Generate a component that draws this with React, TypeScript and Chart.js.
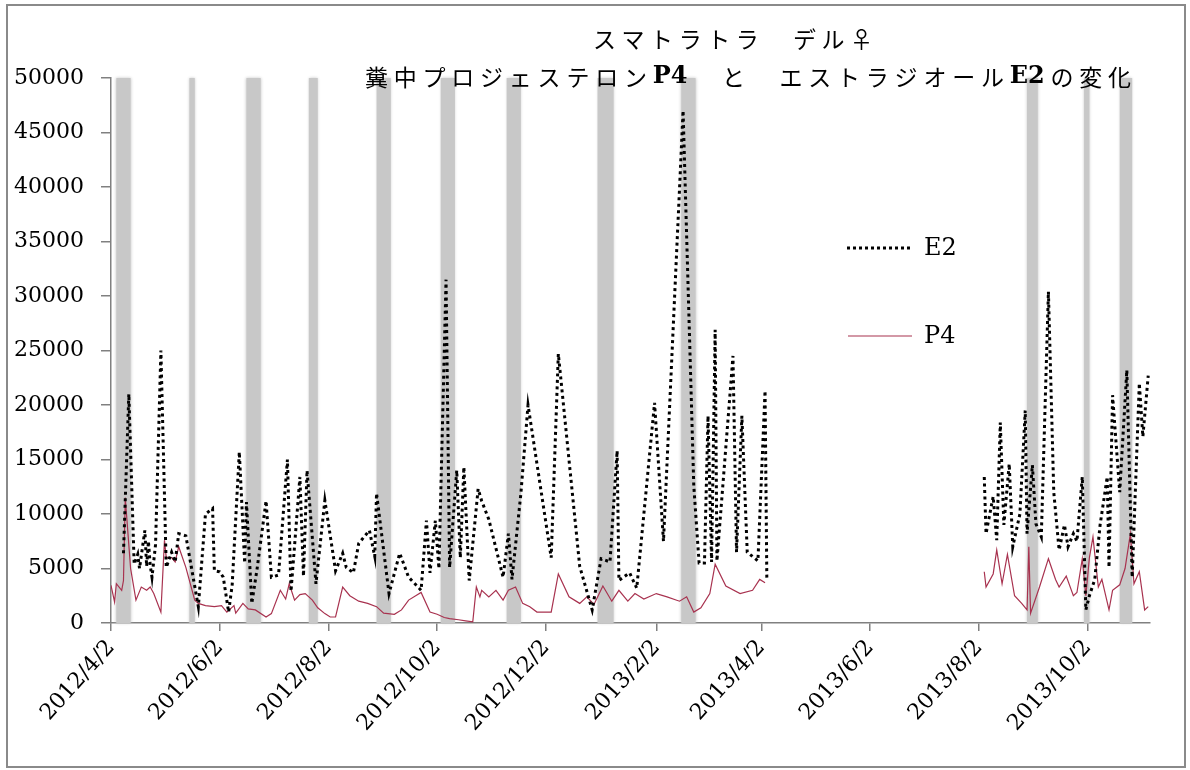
import React, { useEffect, useRef } from 'react';
import { Chart, registerables } from 'chart.js';

Chart.register(...registerables);

// ---- data (x = days since 2012/4/2) ----
const tickDays = [0, 61, 122, 183, 244, 306, 365, 426, 487, 548];
const tickLabels = ['2012/4/2', '2012/6/2', '2012/8/2', '2012/10/2', '2012/12/2', '2013/2/2', '2013/4/2', '2013/6/2', '2013/8/2', '2013/10/2'];

const bandStartDays = [3, 44, 76, 111, 149, 185, 222, 273, 320, 514, 546, 566];
const bandEndDays = [11, 47, 84, 116, 157, 193, 230, 282, 328, 520, 549, 573];
const bandValue = 50000;

const e2Days = [7, 10, 13, 15, 16, 19, 20, 21, 22, 23, 25, 28, 31, 34, 36, 38, 42, 49, 53, 57, 58, 61, 63, 66, 68, 72, 75, 76, 79, 82, 87, 90, 94, 99, 101, 106, 108, 110, 115, 120, 126, 130, 132, 136, 139, 145, 148, 149, 156, 162, 167, 174, 177, 179, 182, 184, 188, 190, 194, 196, 198, 201, 206, 208, 212, 220, 223, 225, 230, 234, 247, 251, 263, 270, 275, 280, 284, 285, 291, 295, 305, 310, 321, 327, 330, 333, 335, 337, 339, 340, 349, 351, 354, 357, 363, 367, 368, 430, 490, 491, 495, 497, 499, 501, 504, 506, 510, 513, 514, 517, 519, 522, 526, 529, 532, 535, 537, 540, 542, 545, 547, 549, 552, 555, 559, 560, 562, 566, 570, 573, 577, 579, 582];
const e2Values = [6400, 21000, 5400, 6300, 5000, 8500, 5200, 7500, 5300, 4200, 7200, 25000, 5100, 6500, 5600, 8200, 8000, 1500, 10000, 10500, 4800, 4700, 4200, 1000, 3500, 15700, 5500, 11100, 1800, 5000, 11200, 4200, 4400, 15000, 2900, 13400, 4300, 14000, 3600, 11250, 4800, 6400, 5100, 4600, 7300, 8500, 6100, 11900, 2700, 6400, 4200, 3000, 9400, 4600, 9400, 5000, 31500, 5100, 14000, 6000, 14300, 3900, 12300, 11200, 9500, 4200, 8200, 4000, 11900, 20000, 6000, 24700, 5200, 1200, 5900, 5600, 15800, 3900, 4600, 3200, 20200, 7500, 47000, 12600, 5500, 5500, 19000, 5600, 26900, 5700, 24500, 6500, 19000, 6500, 5700, 21300, 4000, null, 13400, 8200, 11600, 7600, 18400, 9000, 14600, 7000, 10000, 19500, 8200, 14500, 9100, 7900, 30400, 12000, 6700, 9000, 7000, 8200, 7500, 13400, 1200, 2500, 4000, 9000, 13400, 5100, 20900, 12000, 23200, 4200, 22000, 17100, 22700];

const p4Days = [0, 2, 3, 6, 7, 8, 11, 14, 17, 20, 22, 24, 28, 30, 31, 34, 36, 38, 42, 47, 49, 53, 58, 62, 65, 69, 70, 74, 77, 81, 87, 90, 95, 98, 100, 103, 106, 109, 113, 116, 120, 123, 126, 130, 134, 139, 144, 149, 153, 159, 163, 167, 174, 179, 183, 187, 190, 195, 199, 203, 205, 207, 208, 212, 216, 220, 223, 227, 231, 235, 239, 247, 251, 257, 263, 267, 271, 276, 281, 285, 290, 294, 299, 306, 312, 319, 323, 327, 331, 336, 339, 345, 353, 360, 364, 367, 430, 490, 491, 495, 497, 500, 503, 507, 511, 514, 515, 516, 521, 526, 530, 532, 536, 540, 542, 545, 547, 549, 551, 554, 556, 560, 562, 566, 569, 572, 574, 577, 580, 582];
const p4Values = [3460, 1930, 3610, 3000, 3900, 11500, 5000, 2100, 3300, 3000, 3300, 2700, 1000, 7600, 6000, 6000, 5600, 7000, 5100, 2100, 1800, 1600, 1500, 1600, 1000, 1600, 900, 1800, 1300, 1200, 550, 860, 3000, 2200, 3600, 2100, 2600, 2700, 2100, 1400, 860, 550, 550, 3300, 2500, 2000, 1800, 1500, 900, 800, 1200, 2100, 2800, 1000, 800, 500, 400, 300, 200, 100, 3300, 2400, 3000, 2400, 3000, 2100, 3000, 3300, 1800, 1500, 1000, 1000, 4500, 2400, 1800, 2400, 1700, 3400, 2000, 3000, 2000, 2700, 2200, 2700, 2400, 2000, 2400, 1000, 1400, 2700, 5400, 3400, 2700, 3000, 4000, 3700, null, 4700, 3300, 4500, 6700, 3600, 6300, 2500, 1800, 1200, 7000, 900, 3300, 5900, 4000, 3300, 4300, 2500, 2800, 5900, 2500, 6000, 7900, 3300, 4000, 1200, 3000, 3500, 5000, 8200, 3600, 4700, 1200, 1500];

const seriesNames = ['E2', 'P4'];
const titleLine1: [string, boolean][] = [['スマトラトラ　デル♀', false]];
const titleLine2: [string, boolean][] = [
  ['糞中プロジェステロン', false],
  ['P4', true],
  ['　と　', false],
  ['エストラジオール', false],
  ['E2', true],
  ['の変化', false],
];

const yMin = 0;
const yMax = 50000;
const yStep = 5000;
const xMinDay = 0;
const xMaxDay = 583;

const JP = '"Noto Sans CJK JP"';
const SERIF = '"DejaVu Serif"';
const E2_COLOR = '#000000';
const P4_COLOR = '#a8324f';
const AXIS_COLOR = '#808080';
const BAND_COLOR = '#c8c8c8';

function drawSpaced(ctx: CanvasRenderingContext2D, parts: [string, boolean][], cx: number, cy: number, width: number, size: number) {
  const chars: { ch: string; font: string; w: number; latin: boolean }[] = [];
  parts.forEach(([t, bold]) => {
    Array.from(t).forEach((ch) => {
      chars.push({ ch, font: bold ? `bold ${size + 1}px ${SERIF}` : `${size}px ${JP}`, w: 0, latin: bold });
    });
  });
  let total = 0;
  chars.forEach((c) => {
    ctx.font = c.font;
    c.w = ctx.measureText(c.ch).width;
    total += c.w;
  });
  let nGaps = 0;
  for (let i = 0; i < chars.length - 1; i++) {
    if (!(chars[i].latin && chars[i + 1].latin)) nGaps++;
  }
  const gap = nGaps > 0 ? (width - total) / nGaps : 0;
  let x = cx - width / 2;
  ctx.textBaseline = 'middle';
  ctx.textAlign = 'left';
  ctx.fillStyle = '#000';
  chars.forEach((c, i) => {
    ctx.font = c.font;
    ctx.fillText(c.ch, x, cy);
    const next = chars[i + 1];
    x += c.w + (next && c.latin && next.latin ? 0 : gap);
  });
}

const bandsPlugin = {
  id: 'bands',
  beforeDatasetsDraw(chart: any) {
    const { ctx, scales } = chart;
    const xs = scales.x;
    const ys = scales.y;
    ctx.save();
    ctx.fillStyle = BAND_COLOR;
    ctx.shadowColor = BAND_COLOR;
    ctx.shadowBlur = 3;
    bandStartDays.forEach((s, i) => {
      const x1 = xs.getPixelForValue(s);
      const x2 = xs.getPixelForValue(bandEndDays[i]);
      const y1 = ys.getPixelForValue(bandValue);
      const y2 = ys.getPixelForValue(0);
      ctx.fillRect(x1, y1, x2 - x1, y2 - y1);
    });
    ctx.restore();
  },
};

const textPlugin = {
  id: 'texts',
  afterDraw(chart: any) {
    const { ctx } = chart;
    ctx.save();
    drawSpaced(ctx, titleLine1, 733, 39, 280, 23);
    drawSpaced(ctx, titleLine2, 748, 77, 766, 23);

    // legend
    ctx.lineWidth = 3;
    ctx.strokeStyle = E2_COLOR;
    ctx.setLineDash([3, 3]);
    ctx.beginPath();
    ctx.moveTo(847, 248);
    ctx.lineTo(912, 248);
    ctx.stroke();
    ctx.setLineDash([]);
    ctx.lineWidth = 1.2;
    ctx.strokeStyle = P4_COLOR;
    ctx.beginPath();
    ctx.moveTo(848, 336);
    ctx.lineTo(912, 336);
    ctx.stroke();
    ctx.fillStyle = '#000';
    ctx.font = `24px ${SERIF}`;
    ctx.textAlign = 'left';
    ctx.textBaseline = 'middle';
    ctx.fillText(seriesNames[0], 924, 249);
    ctx.fillText(seriesNames[1], 924, 337);
    ctx.restore();
  },
};

export default function App() {
  const ref = useRef<HTMLCanvasElement>(null);
  useEffect(() => {
    const canvas = ref.current;
    if (!canvas) return;
    const e2Points = e2Days.map((d, i) => ({ x: d, y: e2Values[i] }));
    const p4Points = p4Days.map((d, i) => ({ x: d, y: p4Values[i] }));
    const chart = new Chart(canvas, {
      type: 'line',
      data: {
        datasets: [
          {
            label: seriesNames[0],
            data: e2Points as any,
            borderColor: E2_COLOR,
            borderWidth: 3,
            borderDash: [3, 3.5],
            borderCapStyle: 'butt',
            pointRadius: 0,
            tension: 0,
            spanGaps: false,
            order: 0,
          },
          {
            label: seriesNames[1],
            data: p4Points as any,
            borderColor: P4_COLOR,
            borderWidth: 1.2,
            pointRadius: 0,
            tension: 0,
            spanGaps: false,
            order: 1,
          },
        ],
      },
      options: {
        responsive: false,
        animation: false,
        layout: { padding: { top: 78, right: 40, left: 0, bottom: 0 } },
        plugins: {
          legend: { display: false },
          tooltip: { enabled: false },
          title: { display: false },
        },
        scales: {
          x: {
            type: 'linear',
            min: xMinDay,
            max: xMaxDay,
            afterBuildTicks: (scale: any) => {
              scale.ticks = tickDays.map((v) => ({ value: v }));
            },
            afterFit: (scale: any) => {
              scale.height = 147;
            },
            ticks: {
              autoSkip: false,
              minRotation: 48,
              maxRotation: 48,
              padding: 4,
              color: '#000',
              font: { family: SERIF, size: 22 },
              callback: (v: any) => {
                const i = tickDays.indexOf(Number(v));
                return i >= 0 ? tickLabels[i] : '';
              },
            },
            grid: { display: true, drawOnChartArea: false, drawTicks: true, tickLength: 8, color: AXIS_COLOR, lineWidth: 1.5 },
            border: { display: true, color: AXIS_COLOR, width: 1.5 },
          },
          y: {
            min: yMin,
            max: yMax,
            afterFit: (scale: any) => {
              scale.width = 111;
            },
            ticks: {
              stepSize: yStep,
              padding: 17,
              color: '#000',
              font: { family: SERIF, size: 22 },
              callback: (v: any) => String(v),
            },
            grid: { display: true, drawOnChartArea: false, drawTicks: true, tickLength: 10, color: AXIS_COLOR, lineWidth: 1.5 },
            border: { display: true, color: AXIS_COLOR, width: 1.5 },
          },
        },
      } as any,
      plugins: [bandsPlugin, textPlugin],
    });
    return () => chart.destroy();
  }, []);

  return (
    <div style={{ position: 'absolute', left: 0, top: 0, width: 1190, height: 770, background: '#fff' }}>
      <canvas ref={ref} width={1190} height={770} style={{ position: 'absolute', left: 0, top: 0, width: 1190, height: 770 }} />
      <div
        style={{
          position: 'absolute',
          left: 6,
          top: 4,
          width: 1180,
          height: 764,
          border: '2px solid #8a8a8a',
          boxSizing: 'border-box',
          pointerEvents: 'none',
        }}
      />
    </div>
  );
}
